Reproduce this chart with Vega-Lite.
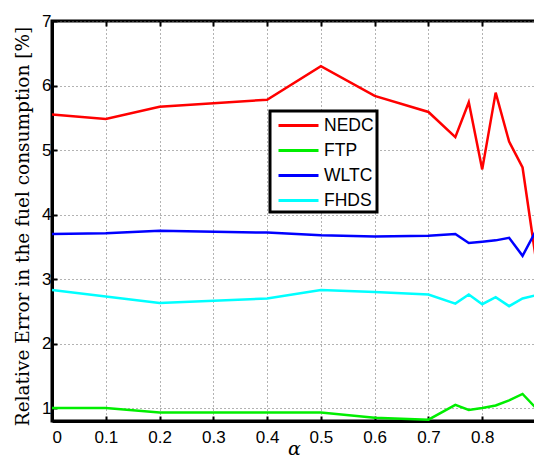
{
  "$schema": "https://vega.github.io/schema/vega-lite/v6.json",
  "width": 484,
  "height": 400,
  "autosize": "none",
  "padding": {"left": 52, "top": 21, "right": 0, "bottom": 39},
  "background": "white",
  "config": {
    "view": {"stroke": "black", "strokeWidth": 3},
    "axis": {
      "domainColor": "black", "domainWidth": 3,
      "tickColor": "black", "tickWidth": 2, "tickSize": -5,
      "gridColor": "#666", "gridDash": [1, 3], "gridWidth": 1,
      "labelFont": "Liberation Sans", "labelFontSize": 17, "labelColor": "black",
      "titleFont": "DejaVu Serif", "titleFontWeight": "normal", "titleColor": "black"
    }
  },
  "data": {"values": [
    {"alpha": 0, "series": "NEDC", "value": 5.55},
    {"alpha": 0.1, "series": "NEDC", "value": 5.48},
    {"alpha": 0.2, "series": "NEDC", "value": 5.67},
    {"alpha": 0.4, "series": "NEDC", "value": 5.78},
    {"alpha": 0.5, "series": "NEDC", "value": 6.30},
    {"alpha": 0.6, "series": "NEDC", "value": 5.84},
    {"alpha": 0.7, "series": "NEDC", "value": 5.59},
    {"alpha": 0.75, "series": "NEDC", "value": 5.20},
    {"alpha": 0.775, "series": "NEDC", "value": 5.74},
    {"alpha": 0.8, "series": "NEDC", "value": 4.70},
    {"alpha": 0.825, "series": "NEDC", "value": 5.89},
    {"alpha": 0.85, "series": "NEDC", "value": 5.13},
    {"alpha": 0.875, "series": "NEDC", "value": 4.73},
    {"alpha": 0.9, "series": "NEDC", "value": 3.30},
    {"alpha": 0, "series": "FTP", "value": 1.0},
    {"alpha": 0.1, "series": "FTP", "value": 1.0},
    {"alpha": 0.2, "series": "FTP", "value": 0.93},
    {"alpha": 0.4, "series": "FTP", "value": 0.93},
    {"alpha": 0.5, "series": "FTP", "value": 0.93},
    {"alpha": 0.6, "series": "FTP", "value": 0.85},
    {"alpha": 0.7, "series": "FTP", "value": 0.82},
    {"alpha": 0.75, "series": "FTP", "value": 1.05},
    {"alpha": 0.775, "series": "FTP", "value": 0.97},
    {"alpha": 0.8, "series": "FTP", "value": 1.0},
    {"alpha": 0.825, "series": "FTP", "value": 1.04},
    {"alpha": 0.85, "series": "FTP", "value": 1.12},
    {"alpha": 0.875, "series": "FTP", "value": 1.22},
    {"alpha": 0.9, "series": "FTP", "value": 1.0},
    {"alpha": 0, "series": "WLTC", "value": 3.70},
    {"alpha": 0.1, "series": "WLTC", "value": 3.71},
    {"alpha": 0.2, "series": "WLTC", "value": 3.75},
    {"alpha": 0.4, "series": "WLTC", "value": 3.72},
    {"alpha": 0.5, "series": "WLTC", "value": 3.68},
    {"alpha": 0.6, "series": "WLTC", "value": 3.66},
    {"alpha": 0.7, "series": "WLTC", "value": 3.67},
    {"alpha": 0.75, "series": "WLTC", "value": 3.70},
    {"alpha": 0.775, "series": "WLTC", "value": 3.56},
    {"alpha": 0.8, "series": "WLTC", "value": 3.58},
    {"alpha": 0.825, "series": "WLTC", "value": 3.60},
    {"alpha": 0.85, "series": "WLTC", "value": 3.64},
    {"alpha": 0.875, "series": "WLTC", "value": 3.36},
    {"alpha": 0.9, "series": "WLTC", "value": 3.75},
    {"alpha": 0, "series": "FHDS", "value": 2.83},
    {"alpha": 0.1, "series": "FHDS", "value": 2.73},
    {"alpha": 0.2, "series": "FHDS", "value": 2.63},
    {"alpha": 0.4, "series": "FHDS", "value": 2.70},
    {"alpha": 0.5, "series": "FHDS", "value": 2.83},
    {"alpha": 0.6, "series": "FHDS", "value": 2.80},
    {"alpha": 0.7, "series": "FHDS", "value": 2.76},
    {"alpha": 0.75, "series": "FHDS", "value": 2.62},
    {"alpha": 0.775, "series": "FHDS", "value": 2.76},
    {"alpha": 0.8, "series": "FHDS", "value": 2.61},
    {"alpha": 0.825, "series": "FHDS", "value": 2.72},
    {"alpha": 0.85, "series": "FHDS", "value": 2.58},
    {"alpha": 0.875, "series": "FHDS", "value": 2.70},
    {"alpha": 0.9, "series": "FHDS", "value": 2.75}
  ]},
  "layer": [
    {
      "mark": {"type": "line", "strokeWidth": 2.5, "clip": true},
      "encoding": {
        "x": {"field": "alpha", "type": "quantitative",
              "scale": {"domain": [0, 0.9], "nice": false, "zero": false},
              "axis": {"values": [0, 0.1, 0.2, 0.3, 0.4, 0.5, 0.6, 0.7, 0.8], "format": "~g",
                       "title": "α", "titleFontSize": 19, "titleFontStyle": "italic", "titlePadding": -6, "labelPadding": 13}},
        "y": {"field": "value", "type": "quantitative",
              "scale": {"domain": [0.8, 7], "nice": false, "zero": false},
              "axis": {"values": [1, 2, 3, 4, 5, 6, 7], "format": "~g", "title": "Relative Error in the fuel consumption [%]",
                       "titleFontSize": 18.5, "labelPadding": 6, "titleX": -24, "titleY": 205, "titleBaseline": "alphabetic", "titleAngle": 270}},
        "color": {"field": "series", "type": "nominal",
                  "scale": {"domain": ["NEDC", "FTP", "WLTC", "FHDS"], "range": ["#ff0000", "#00ee00", "#0000ff", "#00ffff"]},
                  "legend": {"title": null, "orient": "none", "legendX": 218, "legendY": 90,
                             "symbolType": "M-2,0H2", "symbolStrokeWidth": 3, "symbolSize": 400, "symbolOffset": 14,
                             "rowPadding": 5, "labelFont": "Liberation Sans", "labelFontSize": 17.5, "labelColor": "black",
                             "labelOffset": 14, "strokeColor": "black", "fillColor": "white",
                             "padding": 3,
                             "encode": {"legend": {"update": {"strokeWidth": {"value": 3}}}}}},
        "order": {"field": "alpha", "type": "quantitative"}
      }
    },
    {
      "mark": {"type": "rule", "strokeOpacity": 0},
      "encoding": {
        "x": {"field": "alpha", "type": "quantitative",
              "axis": {"orient": "top", "values": [0, 0.1, 0.2, 0.3, 0.4, 0.5, 0.6, 0.7, 0.8, 0.9], "labels": false, "grid": false, "domain": false, "title": null}}
      }
    }
  ],
  "resolve": {"axis": {"x": "independent"}}
}
